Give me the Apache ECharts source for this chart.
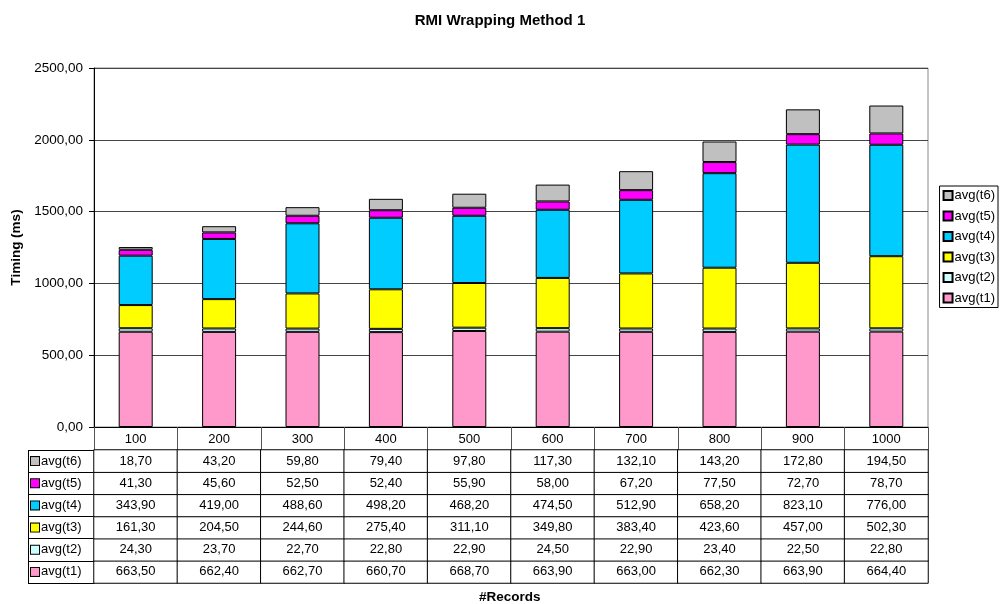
<!DOCTYPE html>
<html>
<head>
<meta charset="utf-8">
<script src="https://cdn.jsdelivr.net/npm/echarts@6/dist/echarts.min.js"></script>
<style>
  html, body { margin: 0; padding: 0; background: #fff; }
  #chart { width: 1000px; height: 604px; }
</style>
</head>
<body>
<div id="chart"></div>
<script>
// data
const records = ['100', '200', '300', '400', '500', '600', '700', '800', '900', '1000']
const seriesNames = ['avg(t1)', 'avg(t2)', 'avg(t3)', 'avg(t4)', 'avg(t5)', 'avg(t6)']
const t1 = [663.5, 662.4, 662.7, 660.7, 668.7, 663.9, 663.0, 662.3, 663.9, 664.4]
const t2 = [24.3, 23.7, 22.7, 22.8, 22.9, 24.5, 22.9, 23.4, 22.5, 22.8]
const t3 = [161.3, 204.5, 244.6, 275.4, 311.1, 349.8, 383.4, 423.6, 457.0, 502.3]
const t4 = [343.9, 419.0, 488.6, 498.2, 468.2, 474.5, 512.9, 658.2, 823.1, 776.0]
const t5 = [41.3, 45.6, 52.5, 52.4, 55.9, 58.0, 67.2, 77.5, 72.7, 78.7]
const t6 = [18.7, 43.2, 59.8, 79.4, 97.8, 117.3, 132.1, 143.2, 172.8, 194.5]
const colors = ['#FF99CC', '#CCFFFF', '#FFFF00', '#00CCFF', '#FF00FF', '#C0C0C0']

const allValues = [t1, t2, t3, t4, t5, t6]
const font = 'Liberation Sans, Arial, sans-serif'
const fmt = v => v.toFixed(2).replace('.', ',')

// table cells for the data table (heatmap with white cells)
let tableData = []
for (let r = 0; r < allValues.length; r++) {
  for (let c = 0; c < records.length; c++) {
    tableData.push([c, r, allValues[r][c]])
  }
}

let rich = {}
for (let i = 0; i < seriesNames.length; i++) {
  rich['s' + i] = { width: 8, height: 8, backgroundColor: colors[i], borderColor: '#000', borderWidth: 1 }
  rich['l' + i] = { fontSize: 13, fontFamily: font, color: '#000', padding: [0, 0, 0, 2] }
}

let barSeries = []
for (let i = 0; i < seriesNames.length; i++) {
  barSeries.push({
    name: seriesNames[i],
    type: 'bar',
    stack: 'total',
    data: allValues[i],
    barWidth: 34,
    xAxisIndex: 0,
    yAxisIndex: 0,
    itemStyle: { color: colors[i], borderColor: '#000', borderWidth: 1 }
  })
}

let myChart = echarts.init(document.getElementById('chart'))
myChart.setOption({
  animation: false,
  textStyle: { fontFamily: font },
  title: [
    { text: 'RMI Wrapping Method 1', left: 'center', top: 13, padding: 0, textStyle: { fontSize: 15, fontWeight: 'bold', fontFamily: font, color: '#000' } },
    { text: '#Records', left: 479, top: 590, padding: 0, textStyle: { fontSize: 13.5, fontWeight: 'bold', fontFamily: font, color: '#000' } }
  ],
  legend: {
    orient: 'vertical',
    right: 2,
    top: 186,
    data: seriesNames.slice().reverse(),
    itemWidth: 9,
    itemHeight: 9,
    itemGap: 7.5,
    padding: [3, 3, 3, 3],
    borderColor: '#000',
    borderWidth: 1,
    backgroundColor: '#fff',
    icon: 'rect',
    textStyle: { fontSize: 13, fontFamily: font, color: '#000', padding: [0, 0, 0, -3] }
  },
  grid: [
    { left: 94, right: 72, top: 68, bottom: 177, show: true, borderColor: '#888', borderWidth: 1 },
    { left: 94, right: 72, top: 450, bottom: 21 }
  ],
  xAxis: [
    {
      type: 'category',
      gridIndex: 0,
      data: records,
      axisLine: { lineStyle: { color: '#000', width: 1 } },
      axisTick: { show: true, length: 23, lineStyle: { color: '#555' } },
      axisLabel: { fontSize: 13, color: '#000', margin: 6 }
    },
    {
      type: 'category',
      gridIndex: 1,
      data: records,
      show: false
    }
  ],
  yAxis: [
    {
      type: 'value',
      gridIndex: 0,
      min: 0,
      max: 2500,
      interval: 500,
      name: 'Timing (ms)',
      nameLocation: 'middle',
      nameGap: 70,
      nameTextStyle: { fontSize: 13.5, fontWeight: 'bold', color: '#000' },
      axisLine: { show: true, lineStyle: { color: '#000' } },
      axisTick: { show: true, length: 5, lineStyle: { color: '#000' } },
      axisLabel: { fontSize: 13.5, color: '#000', margin: 11, formatter: fmt },
      splitLine: { lineStyle: { color: '#444' } }
    },
    {
      type: 'category',
      gridIndex: 1,
      data: seriesNames,
      axisLine: { show: true, lineStyle: { color: '#000' } },
      axisTick: { show: true, length: 66, lineStyle: { color: '#000' } },
      axisLabel: {
        align: 'left',
        margin: 63,
        formatter: (v, i) => '{s' + i + '|}{l' + i + '|' + v + '}',
        rich: rich
      },
      splitLine: { show: false }
    }
  ],
  graphic: [
    { type: 'line', shape: { x1: 28.5, y1: 450, x2: 28.5, y2: 583 }, style: { stroke: '#000', lineWidth: 1 } }
  ],
  series: barSeries.concat([
    {
      type: 'heatmap',
      xAxisIndex: 1,
      yAxisIndex: 1,
      data: tableData,
      itemStyle: { color: '#fff', borderColor: '#000', borderWidth: 1 },
      label: { show: true, fontSize: 13, color: '#000', formatter: p => fmt(p.value[2]) },
      emphasis: { disabled: true }
    }
  ])
})
</script>
</body>
</html>
